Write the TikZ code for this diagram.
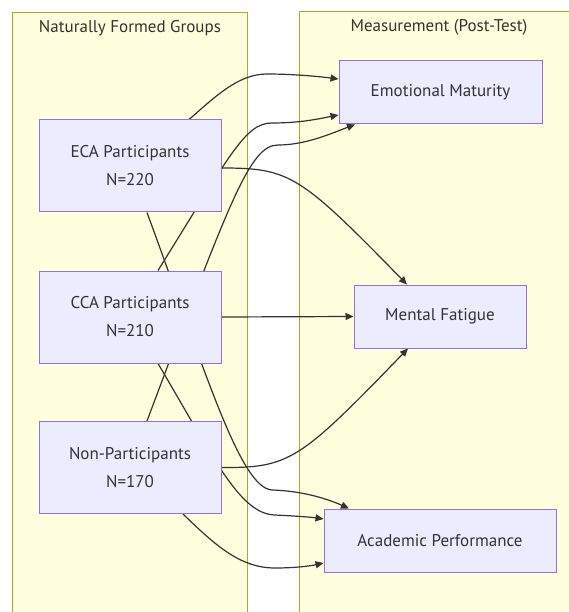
\documentclass[tikz,border=0pt]{standalone}
\usepackage{fontspec}
\setmainfont{PT Sans}
\usetikzlibrary{arrows.meta}
\pgfdeclarelayer{clusterlayer}
\pgfdeclarelayer{edgelayer}
\pgfsetlayers{clusterlayer,edgelayer,main}
\definecolor{clusterfill}{HTML}{FFFFDE}
\definecolor{clusterline}{HTML}{AAAA33}
\definecolor{boxfill}{HTML}{ECECFF}
\definecolor{boxline}{HTML}{9370DB}
\definecolor{ink}{HTML}{333333}
\tikzset{
  cluster/.style={draw=clusterline, fill=clusterfill, line width=1pt},
  clustertitle/.style={text=ink, font=\fontsize{17}{20}\selectfont, anchor=center},
  groupbox/.style={draw=boxline, fill=boxfill, line width=1pt, text=ink,
    minimum width=182pt, minimum height=92pt, align=center,
    font=\fontsize{17}{28}\selectfont, inner sep=0pt},
  measurebox/.style={draw=boxline, fill=boxfill, line width=1pt, text=ink,
    minimum height=63pt, align=center,
    font=\fontsize{17}{20}\selectfont, inner sep=0pt},
  edge/.style={draw=ink, line width=1.2pt, -{Triangle[length=8pt,width=7pt]}},
}
\begin{document}
\begin{tikzpicture}[x=1pt,y=-1pt]
\useasboundingbox (0,0) rectangle (569,612);

% subgraph frames
\begin{pgfonlayer}{clusterlayer}
  \fill[white] (0,0) rectangle (569,612);
  \path[cluster] (12,13) rectangle (247,616);
  \path[cluster] (299,12) rectangle (574,616);
\end{pgfonlayer}
\node[clustertitle] (leftTitle) at (130,28.5) {Naturally Formed Groups};
\node[clustertitle] (rightTitle) at (439,27.5) {Measurement (Post-Test)};

% groups
\node[groupbox] (eca) at (130,166) {ECA Participants\\N=220};
\node[groupbox] (cca) at (130,317) {CCA Participants\\N=210};
\node[groupbox] (non) at (130,467.5) {Non-Participants\\N=170};

% outcomes
\node[measurebox, minimum width=203pt] (em) at (440.5,92.5) {Emotional Maturity};
\node[measurebox, minimum width=172pt] (mf) at (440,316.5) {Mental Fatigue};
\node[measurebox, minimum width=232pt] (ap) at (440,540.5) {Academic Performance};

\begin{pgfonlayer}{edgelayer}
  % ECA Participants
  \draw[edge] ([xshift=59pt]eca.north) .. controls (215,97) and (238,74) .. (267,74)
     .. controls (290,74) and (315,76) .. ([yshift=13.5pt]em.west);
  \draw[edge] ([yshift=-2pt]eca.east) .. controls (290,168) and (300,175) .. ([xshift=-33pt]mf.north);
  \draw[edge] ([xshift=17pt]eca.south) .. controls (205,370) and (240,488) .. (272,490)
     .. controls (305,491) and (330,500) .. ([xshift=-91pt]ap.north);
  % CCA Participants
  \draw[edge] ([xshift=28pt]cca.north) .. controls (230,155) and (245,123) .. (272,123)
     .. controls (300,123) and (318,119) .. ([yshift=-22.5pt]em.west);
  \draw[edge] (cca.east) -- (mf.west);
  \draw[edge] ([xshift=28pt]cca.south) .. controls (215,460) and (240,514) .. (275,515)
     .. controls (295,516) and (310,517) .. ([yshift=21.5pt]ap.west);
  % Non-Participants
  \draw[edge] ([xshift=17pt]non.north) .. controls (230,200) and (250,145) .. (278,145)
     .. controls (305,145) and (330,134) .. ([xshift=-85.5pt]em.south);
  \draw[edge] (non.east) .. controls (290,468) and (300,460) .. ([xshift=-32pt]mf.south);
  \draw[edge] ([xshift=53pt]non.south) .. controls (215,545) and (240,568) .. (275,568)
     .. controls (295,568) and (310,566) .. ([yshift=-22.5pt]ap.west);
\end{pgfonlayer}
\end{tikzpicture}
\end{document}
